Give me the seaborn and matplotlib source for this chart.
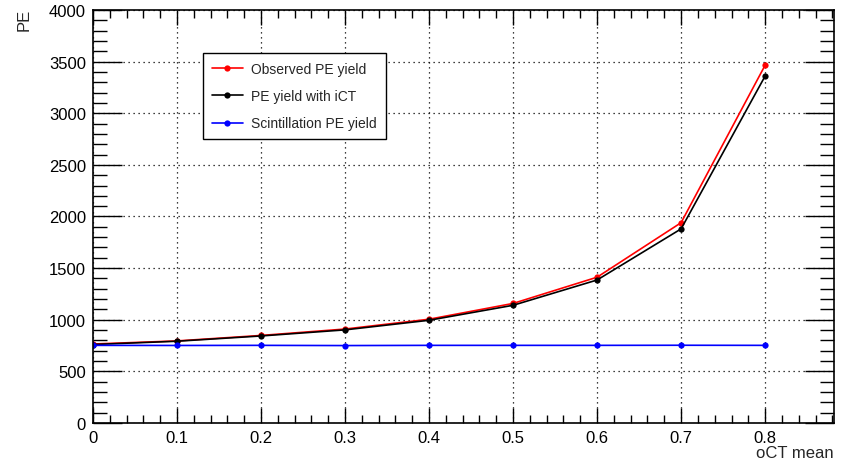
import numpy as np
import pandas as pd
import matplotlib
matplotlib.use("Agg")
import matplotlib.pyplot as plt
from matplotlib.ticker import MultipleLocator
import seaborn as sns

# oCT mean values and PE yields
oct_mean = [0.0, 0.1, 0.2, 0.3, 0.4, 0.5, 0.6, 0.7, 0.8]
observed_pe = [765, 795, 848, 910, 1005, 1158, 1412, 1940, 3465]
ict_pe = [760, 792, 843, 902, 995, 1140, 1385, 1880, 3360]
scint_pe = [752, 751, 752, 750, 752, 752, 752, 753, 752]

x_tick_labels = ["0", "0.1", "0.2", "0.3", "0.4", "0.5", "0.6", "0.7", "0.8"]
series_names = ["Observed PE yield", "PE yield with iCT", "Scintillation PE yield"]
series_colors = ["#ff0000", "#000000", "#0000ff"]

df = pd.DataFrame({
    "oCT mean": oct_mean * 3,
    "PE": observed_pe + ict_pe + scint_pe,
    "series": [series_names[0]] * len(oct_mean)
              + [series_names[1]] * len(oct_mean)
              + [series_names[2]] * len(oct_mean),
})

sns.set_style("ticks")
plt.rcParams["font.family"] = ["Liberation Sans", "DejaVu Sans"]
plt.rcParams["font.size"] = 12

fig = plt.figure(figsize=(8.5, 4.64), dpi=100)
ax = fig.add_axes([93 / 850, 1 - 424 / 464, (834 - 93) / 850, (424 - 11) / 464])

sns.lineplot(
    data=df, x="oCT mean", y="PE", hue="series", hue_order=series_names,
    palette=dict(zip(series_names, series_colors)), marker="o", markersize=4.5,
    markeredgewidth=0, linewidth=1.2, ax=ax, legend=True,
)

ax.set_xlim(0, 0.882)
ax.set_ylim(0, 4000)
ax.set_xticks(oct_mean)
ax.set_xticklabels(x_tick_labels)
ax.xaxis.set_minor_locator(MultipleLocator(0.02))
ax.yaxis.set_major_locator(MultipleLocator(500))
ax.yaxis.set_minor_locator(MultipleLocator(100))

ax.grid(True, which="major", color="black", linestyle=(0, (1, 3)), linewidth=0.9)
ax.set_axisbelow(True)

for s in ax.spines.values():
    s.set_visible(True)
    s.set_color("black")
    s.set_linewidth(1.2)

ax.tick_params(axis="both", which="both", direction="in", top=True, right=True,
               colors="black", labelsize=12)
ax.tick_params(axis="x", which="major", length=11, width=1, pad=5)
ax.tick_params(axis="x", which="minor", length=6, width=1)
ax.tick_params(axis="y", which="major", length=21, width=1, pad=5)
ax.tick_params(axis="y", which="minor", length=10, width=1)

ax.set_xlabel("")
ax.set_ylabel("")
fig.text(834 / 850, 1 - 454 / 464, "oCT mean", ha="right", va="center", fontsize=12)
fig.text(24 / 850, 1 - 20 / 464, "PE", ha="center", va="center", rotation=90, fontsize=12)

handles, labels = ax.get_legend_handles_labels()
leg = ax.legend(
    handles, labels, loc="upper left",
    bbox_to_anchor=((203 - 93) / 741, (424 - 54) / 413, (386 - 203) / 741, 0.0),
    mode="expand", borderaxespad=0, frameon=True, fancybox=False, framealpha=1,
    edgecolor="black", fontsize=10, handlelength=2.2, handletextpad=0.6,
    labelspacing=0.95, borderpad=0.65,
)
leg.get_frame().set_linewidth(1.0)

fig.savefig("out.png", dpi=100, facecolor="white")
